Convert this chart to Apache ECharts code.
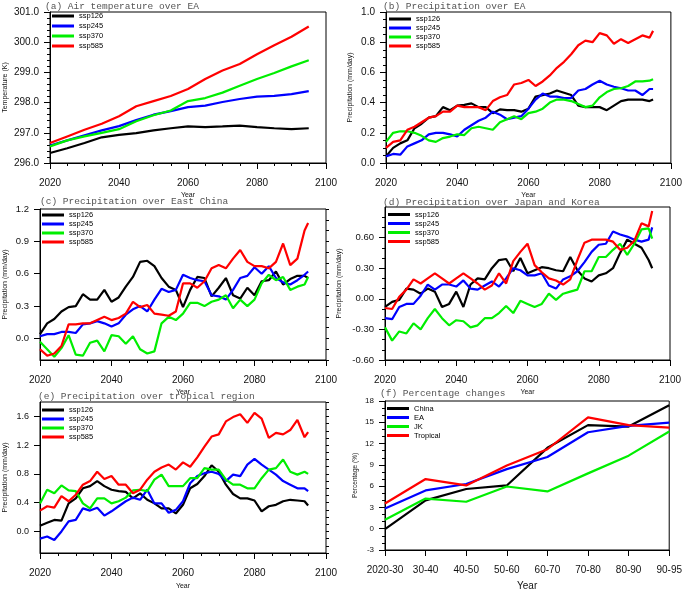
<!DOCTYPE html>
<html><head><meta charset="utf-8">
<script src="https://cdn.jsdelivr.net/npm/echarts@6/dist/echarts.min.js"></script>
<style>html,body{margin:0;padding:0;background:#fff}#c{width:685px;height:592px}</style>
</head><body><div id="c"></div>
<script>
// ---------- data ----------
const scenarioNames = ['ssp126','ssp245','ssp370','ssp585'];
const regionNames = ['China','EA','JK','Tropical'];
const periodLabels = ['2020-30','30-40','40-50','50-60','60-70','70-80','80-90','90-95'];

const yearsTas = [2020,2025,2030,2035,2040,2045,2050,2055,2060,2065,2070,2075,2080,2085,2090,2095];
const tas126 = [296.33,296.49,296.66,296.85,296.93,296.99,297.08,297.15,297.21,297.19,297.21,297.24,297.19,297.15,297.12,297.15];
const tas245 = [296.58,296.75,296.92,297.08,297.22,297.42,297.60,297.72,297.85,297.90,298.02,298.12,298.20,298.22,298.28,298.38];
const tas370 = [296.55,296.75,296.88,297.00,297.12,297.38,297.58,297.74,298.05,298.15,298.33,298.56,298.78,298.98,299.20,299.40];
const tas585 = [296.66,296.88,297.10,297.30,297.55,297.88,298.05,298.22,298.45,298.78,299.06,299.28,299.60,299.90,300.18,300.52];

const years = [2020,2022,2024,2026,2028,2030,2032,2034,2036,2038,2040,2042,2044,2046,2048,2050,2052,2054,2056,2058,2060,2062,2064,2066,2068,2070,2072,2074,2076,2078,2080,2082,2084,2086,2088,2090,2092,2094,2095];

const prEA126 = [0.044,0.10,0.13,0.15,0.23,0.26,0.30,0.31,0.37,0.35,0.38,0.385,0.395,0.37,0.37,0.33,0.355,0.35,0.35,0.34,0.36,0.44,0.45,0.46,0.48,0.465,0.45,0.38,0.37,0.37,0.37,0.35,0.38,0.41,0.42,0.42,0.42,0.41,0.42];
const prEA245 = [0.044,0.06,0.055,0.11,0.13,0.15,0.19,0.20,0.20,0.19,0.175,0.22,0.25,0.28,0.30,0.34,0.32,0.29,0.30,0.31,0.36,0.42,0.46,0.44,0.44,0.43,0.43,0.48,0.49,0.52,0.545,0.52,0.505,0.495,0.48,0.48,0.45,0.49,0.49];
const prEA370 = [0.14,0.20,0.21,0.21,0.20,0.18,0.15,0.14,0.165,0.175,0.19,0.185,0.23,0.24,0.23,0.22,0.27,0.29,0.31,0.29,0.33,0.34,0.36,0.40,0.42,0.42,0.41,0.39,0.37,0.38,0.435,0.47,0.49,0.495,0.51,0.54,0.54,0.545,0.555];
const prEA585 = [0.10,0.14,0.15,0.22,0.24,0.27,0.30,0.31,0.34,0.34,0.38,0.37,0.37,0.37,0.35,0.41,0.435,0.45,0.52,0.53,0.55,0.51,0.54,0.58,0.63,0.67,0.72,0.78,0.81,0.80,0.86,0.845,0.79,0.82,0.795,0.82,0.845,0.83,0.875];

const prEC126 = [0.04,0.14,0.18,0.25,0.29,0.30,0.41,0.36,0.36,0.45,0.34,0.38,0.48,0.57,0.71,0.72,0.67,0.56,0.48,0.45,0.29,0.45,0.57,0.56,0.39,0.47,0.56,0.40,0.37,0.47,0.40,0.53,0.54,0.62,0.50,0.55,0.58,0.58,0.56];
const prEC245 = [0.02,0.04,0.04,0.06,0.06,0.05,0.13,0.14,0.16,0.14,0.11,0.14,0.22,0.27,0.30,0.25,0.36,0.46,0.43,0.45,0.59,0.56,0.54,0.53,0.40,0.39,0.36,0.45,0.56,0.58,0.66,0.60,0.67,0.56,0.52,0.50,0.54,0.59,0.62];
const prEC370 = [-0.03,-0.10,-0.17,-0.09,0.03,-0.15,-0.16,-0.04,-0.02,-0.12,0.03,0.02,-0.05,0.02,-0.10,-0.14,-0.12,0.14,0.20,0.17,0.23,0.33,0.33,0.30,0.34,0.36,0.40,0.28,0.36,0.30,0.36,0.51,0.59,0.54,0.57,0.45,0.48,0.50,0.57];
const prEC585 = [-0.10,-0.16,-0.14,-0.07,0.13,0.13,0.14,0.14,0.17,0.20,0.17,0.19,0.23,0.34,0.29,0.31,0.23,0.22,0.21,0.25,0.51,0.51,0.47,0.53,0.65,0.68,0.65,0.74,0.82,0.71,0.67,0.67,0.65,0.71,0.88,0.68,0.74,1.00,1.07];

const prJK126 = [-0.08,-0.03,-0.01,0.10,0.09,0.05,0.10,0.07,-0.08,-0.05,0.07,-0.08,0.14,0.20,0.19,0.30,0.38,0.39,0.27,0.40,0.25,0.28,0.31,0.30,0.28,0.27,0.41,0.28,0.20,0.17,0.23,0.25,0.30,0.45,0.58,0.54,0.50,0.38,0.30];
const prJK245 = [-0.19,-0.20,-0.08,-0.05,-0.05,0.03,0.14,0.09,0.14,0.14,0.12,0.18,0.10,0.09,0.13,0.17,0.12,0.20,0.30,0.28,0.23,0.23,0.25,0.13,0.10,0.19,0.22,0.27,0.36,0.46,0.53,0.54,0.66,0.63,0.61,0.58,0.56,0.58,0.70];
const prJK370 = [-0.28,-0.41,-0.32,-0.34,-0.24,-0.30,-0.19,-0.10,-0.19,-0.26,-0.21,-0.22,-0.28,-0.26,-0.19,-0.19,-0.14,-0.07,-0.14,-0.02,-0.05,-0.08,-0.05,0.05,-0.01,0.05,0.07,0.09,0.27,0.27,0.41,0.41,0.48,0.54,0.43,0.54,0.68,0.69,0.59];
const prJK585 = [-0.09,-0.10,0.02,0.09,0.19,0.15,0.20,0.25,0.20,0.15,0.20,0.25,0.20,0.15,0.09,0.13,0.25,0.15,0.37,0.46,0.54,0.33,0.26,0.20,0.18,0.14,0.19,0.38,0.55,0.58,0.58,0.58,0.56,0.48,0.50,0.57,0.74,0.71,0.86];

const prTR126 = [0.08,0.12,0.16,0.15,0.39,0.46,0.60,0.63,0.70,0.63,0.58,0.56,0.55,0.46,0.53,0.44,0.39,0.32,0.32,0.25,0.37,0.60,0.66,0.77,0.92,0.83,0.65,0.52,0.46,0.46,0.43,0.28,0.35,0.37,0.42,0.44,0.43,0.42,0.36];
const prTR245 = [-0.10,-0.07,-0.12,0.00,0.14,0.16,0.32,0.29,0.33,0.22,0.28,0.35,0.42,0.47,0.44,0.58,0.39,0.39,0.26,0.30,0.42,0.67,0.77,0.81,0.83,0.80,0.70,0.79,0.77,0.93,1.01,0.93,0.86,0.79,0.70,0.65,0.60,0.60,0.56];
const prTR370 = [0.39,0.58,0.53,0.64,0.57,0.56,0.39,0.32,0.46,0.46,0.39,0.42,0.47,0.57,0.58,0.56,0.72,0.79,0.63,0.63,0.63,0.74,0.74,0.88,0.86,0.86,0.72,0.65,0.65,0.60,0.60,0.74,0.86,0.88,1.00,0.83,0.79,0.83,0.80];
const prTR585 = [0.29,0.35,0.33,0.49,0.42,0.51,0.65,0.70,0.83,0.73,0.77,0.65,0.65,0.53,0.58,0.72,0.83,0.89,0.93,0.86,0.96,0.90,1.03,1.18,1.32,1.35,1.53,1.59,1.63,1.51,1.65,1.57,1.30,1.37,1.35,1.41,1.55,1.31,1.38];

const pctChina = [-0.05,4.0,5.6,6.1,11.4,14.6,14.4,17.4];
const pctEA = [2.86,5.4,6.3,8.4,10.1,13.6,14.5,14.95];
const pctJK = [1.25,4.25,3.8,5.95,5.25,7.8,10.3,13.7];
const pctTropical = [3.55,7.0,6.1,8.9,11.2,15.7,14.6,14.25];

const panelTitles = ['(a) Air temperature over EA','(b) Precipitation over EA','(c) Precipitation over East China','(d) Precipitation over Japan and Korea','(e) Precipitation over tropical region','(f) Percentage changes'];

// ---------- styling / layout ----------
const SANS = 'Liberation Sans';
const lineColors = ['#000000','#0000ff','#00ee00','#ff0000'];
const grids = [
  {left:50, top:12, width:276, height:151},
  {left:386, top:12, width:286, height:151},
  {left:40, top:209, width:286, height:151},
  {left:385, top:207, width:285, height:153},
  {left:40, top:402, width:286, height:151},
  {left:385, top:401, width:286, height:151}
];
grids.forEach(g => { g.show = true; g.borderColor = '#000'; g.borderWidth = 1; g.backgroundColor = 'transparent'; });

const titlePos = [[45,1],[383,1],[40,196],[383,197],[38,391],[380,388]];
const legendPos = [[52,11.5,1],[389,14.5,0],[42,210.5,0],[388,210,0],[42,405.5,0],[387,404,0]];
const yNameGap = [41,32,31,42,31,26];

const blk = {color:'#000', width:1};

function timeX(gi, gap){
  return {type:'value', gridIndex:gi, min:2020, max:2100, interval:20,
    name:'Year', nameLocation:'middle', nameGap:gap,
    nameTextStyle:{fontSize:7, fontFamily:SANS, color:'#111'},
    axisLine:{onZero:false, lineStyle:blk}, axisTick:{length:6, lineStyle:blk},
    minorTick:{show:true, splitNumber:4, length:3, lineStyle:blk},
    axisLabel:{fontSize:10, margin:15, color:'#111', fontFamily:SANS, formatter:v=>String(v)},
    splitLine:{show:false}, minorSplitLine:{show:false}};
}
function baseY(gi, o){
  const ax = {type:'value', gridIndex:gi, min:o.min, max:o.max, interval:o.interval,
    name:o.name, nameLocation:'middle', nameGap:yNameGap[gi],
    nameTextStyle:{fontSize:7, fontFamily:SANS, color:'#111'},
    axisLine:{show:true, onZero:false, lineStyle:blk},
    axisTick:{show:true, length:6, lineStyle:blk},
    minorTick:{show:!!o.minor, splitNumber:o.minor||5, length:3, lineStyle:blk},
    axisLabel:{fontSize:o.fs, margin:11, color:'#111', fontFamily:SANS, formatter:v=>v.toFixed(o.dec)},
    splitLine:{show:false}, minorSplitLine:{show:false}};
  if (o.labels){ ax.axisLabel.customValues = o.labels; ax.axisTick.customValues = o.labels; }
  return ax;
}
function minorY(gi, min, max){
  return {type:'value', gridIndex:gi, min:min, max:max, interval:0.1,
    axisLine:{show:false, onZero:false}, axisTick:{show:true, length:3, lineStyle:blk},
    axisLabel:{show:false}, splitLine:{show:false}};
}

const xAxes = [timeX(0,29), timeX(1,29), timeX(2,29), timeX(3,29), timeX(4,30),
  {type:'category', gridIndex:5, data:periodLabels, boundaryGap:false,
   name:'Year', nameLocation:'middle', nameGap:31,
   nameTextStyle:{fontSize:10, fontFamily:SANS, color:'#111'},
   axisLine:{onZero:false, lineStyle:blk}, axisTick:{length:6, lineStyle:blk, alignWithLabel:true},
   axisLabel:{fontSize:10, margin:15, color:'#111', fontFamily:SANS, interval:0},
   splitLine:{show:false}}];

const yAxes = [
  baseY(0,{min:296,max:301,interval:1,name:'Temperature (K)',dec:1,fs:10,minor:5}),
  baseY(1,{min:0,max:1,interval:0.2,name:'Precipitation (mm/day)',dec:1,fs:10,minor:4}),
  baseY(2,{min:-0.2,max:1.2,interval:0.1,name:'Precipitation (mm/day)',dec:1,fs:9.5,labels:[0,0.3,0.6,0.9,1.2]}),
  baseY(3,{min:-0.6,max:0.9,interval:0.3,name:'Precipitation (mm/day)',dec:2,fs:9.5,minor:3,labels:[-0.6,-0.3,0,0.3,0.6]}),
  baseY(4,{min:-0.3,max:1.8,interval:0.1,name:'Precipitation (mm/day)',dec:1,fs:9,labels:[0,0.4,0.8,1.2,1.6]}),
  baseY(5,{min:-3,max:18,interval:3,name:'Percentage (%)',dec:0,fs:8,minor:3}),
  minorY(2,-0.2,1.2),
  minorY(4,-0.3,1.8)
];
yAxes[5].nameTextStyle.fontSize = 6.5;

function pairs(xs, vs){ return vs.map((v,i)=>[xs[i], v]); }
const series = [];
function addLine(gi, name, ci, data){
  series.push({type:'line', name:name, xAxisIndex:gi, yAxisIndex:gi, data:data,
    showSymbol:false, symbol:'none', smooth:false,
    lineStyle:{color:lineColors[ci], width:2.2}, itemStyle:{color:lineColors[ci]}});
}
[tas126,tas245,tas370,tas585].forEach((d,i)=>addLine(0, scenarioNames[i], i, pairs(yearsTas,d)));
[prEA126,prEA245,prEA370,prEA585].forEach((d,i)=>addLine(1, scenarioNames[i], i, pairs(years,d)));
[prEC126,prEC245,prEC370,prEC585].forEach((d,i)=>addLine(2, scenarioNames[i], i, pairs(years,d)));
[prJK126,prJK245,prJK370,prJK585].forEach((d,i)=>addLine(3, scenarioNames[i], i, pairs(years,d)));
[prTR126,prTR245,prTR370,prTR585].forEach((d,i)=>addLine(4, scenarioNames[i], i, pairs(years,d)));
[pctChina,pctEA,pctJK,pctTropical].forEach((d,i)=>addLine(5, regionNames[i], i, d));

const titles = panelTitles.map((t,i)=>({text:t, left:titlePos[i][0], top:titlePos[i][1], padding:0,
  textStyle:{fontFamily:'Liberation Mono', fontSize:9.5, fontWeight:'normal', color:'#555'}}));

const legends = legendPos.map((p,i)=>({orient:'vertical', left:p[0], top:p[1], padding:0, itemGap:p[2],
  itemWidth:22, itemHeight:3, icon:'rect', data:(i===5?regionNames:scenarioNames),
  textStyle:{fontSize:7.5, fontFamily:SANS, color:'#000', lineHeight:9}}));

const chart = echarts.init(document.getElementById('c'), null, {renderer:'canvas'});
chart.setOption({animation:false, backgroundColor:'#fff', title:titles, legend:legends,
  grid:grids, xAxis:xAxes, yAxis:yAxes, series:series});
</script></body></html>
